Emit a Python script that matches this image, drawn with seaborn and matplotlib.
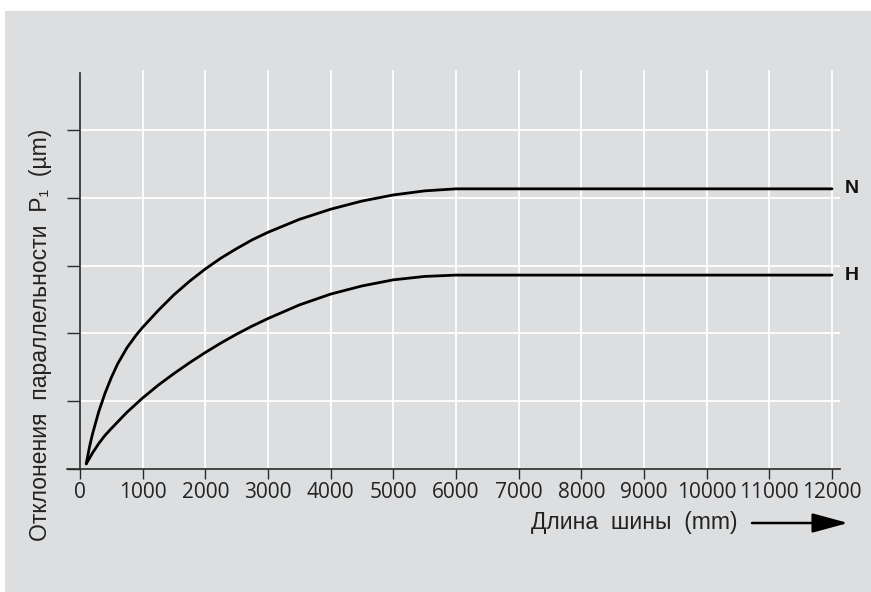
import matplotlib
matplotlib.use("Agg")
import matplotlib.pyplot as plt
from matplotlib.patches import Rectangle
import pandas as pd
import seaborn as sns

# Busbar length (mm) and parallelism deviation for the two tolerance classes
length_N = [100, 150, 200, 300, 400, 500, 600, 750, 900, 1000, 1250, 1500, 1750,
            2000, 2250, 2500, 2750, 3000, 3500, 4000, 4500, 5000, 5500, 6000, 12000]
dev_N = [0.08, 0.32, 0.52, 0.85, 1.12, 1.35, 1.55, 1.79, 1.98, 2.09, 2.34, 2.57, 2.77,
         2.95, 3.11, 3.25, 3.38, 3.49, 3.68, 3.83, 3.95, 4.04, 4.10, 4.13, 4.13]
length_H = [100, 200, 300, 400, 500, 625, 750, 1000, 1250, 1500, 1750, 2000, 2250,
            2500, 2750, 3000, 3500, 4000, 4500, 5000, 5500, 6000, 12000]
dev_H = [0.08, 0.24, 0.38, 0.50, 0.60, 0.72, 0.84, 1.05, 1.24, 1.41, 1.57, 1.72, 1.86,
         1.99, 2.11, 2.22, 2.42, 2.58, 2.70, 2.79, 2.84, 2.86, 2.86]
series_names = ["N", "H"]

x_ticks = list(range(0, 12001, 1000))
y_ticks = [0, 1, 2, 3, 4, 5]

x_label = "Длина  шины  (mm)"
y_label = "Отклонения  параллельности  P\u2081  (µm)"

df = pd.DataFrame({
    "length": length_N + length_H,
    "dev": dev_N + dev_H,
    "cls": [series_names[0]] * len(length_N) + [series_names[1]] * len(length_H),
})

sns.set_theme(style="white")
plt.rcParams["font.family"] = ["Open Sans", "DejaVu Sans"]

BG = "#dddee0"
fig = plt.figure(figsize=(8.71, 5.92), dpi=100, facecolor="white")
fig.patches.append(Rectangle((5 / 871, 0), 1, 1 - 11 / 592, transform=fig.transFigure,
                             facecolor=BG, edgecolor="none", zorder=-10))

ax = fig.add_axes([66.8 / 871, (592 - 469.3) / 592, (840.1 - 66.8) / 871, (469.3 - 70.0) / 592])
ax.set_facecolor("none")

sns.lineplot(data=df, x="length", y="dev", hue="cls", palette=["black", "black"],
             linewidth=2.0, legend=False, ax=ax, zorder=5, sort=True)
for ln in ax.get_lines():
    ln.set_solid_joinstyle("round")
    ln.set_solid_capstyle("round")

ax.set_xlim(-210, 12130)
ax.set_ylim(0, 5.88)

# white grid
ax.hlines(y_ticks[1:], 0, 12130, colors="white", linewidth=1.3, zorder=1)
ax.vlines(x_ticks[1:], 0, 5.88, colors="white", linewidth=1.3, zorder=1)

for s in ["top", "right"]:
    ax.spines[s].set_visible(False)
ax.spines["left"].set_position(("data", 0))
ax.spines["left"].set_bounds(0, 5.84)
for s in ["left", "bottom"]:
    ax.spines[s].set_color("#2a2a2a")
    ax.spines[s].set_linewidth(1.2)
    ax.spines[s].set_zorder(6)

ax.set_xticks(x_ticks)
ax.set_xticklabels([str(v) for v in x_ticks])
ax.set_yticks(y_ticks)
ax.set_yticklabels([])
ax.tick_params(axis="x", direction="out", length=7.5, width=1.0, color="#2a2a2a",
               labelsize=15, labelcolor="#222222", pad=2, bottom=True)
ax.tick_params(axis="y", direction="out", length=9.5, width=1.0, color="#2a2a2a", left=True)
ax.set_xlabel("")
ax.set_ylabel("")

# series labels at the right end
for name, vals in zip(series_names, [dev_N, dev_H]):
    ax.text(12200, vals[-1], name, ha="left", va="center", fontsize=14,
            fontweight="bold", family=["Liberation Sans", "DejaVu Sans"], color="#111111",
            clip_on=False)

fig.text(634 / 871, 1 - 522 / 592, x_label, ha="center", va="center", fontsize=16.5,
         family=["Liberation Sans", "DejaVu Sans"], color="#222222")
fig.text(41 / 871, 1 - 335 / 592, y_label, ha="center", va="center", rotation=90,
         fontsize=16.5, family=["Liberation Sans", "DejaVu Sans"], color="#222222")

ax.annotate("", xy=(848 / 871, 1 - 523 / 592), xytext=(752 / 871, 1 - 523 / 592),
            xycoords="figure fraction", textcoords="figure fraction",
            arrowprops=dict(arrowstyle="-|>,head_length=1.1,head_width=0.3",
                            mutation_scale=20, lw=1.8, color="black",
                            shrinkA=0, shrinkB=0))

fig.savefig("out.png", dpi=100, facecolor="white")
